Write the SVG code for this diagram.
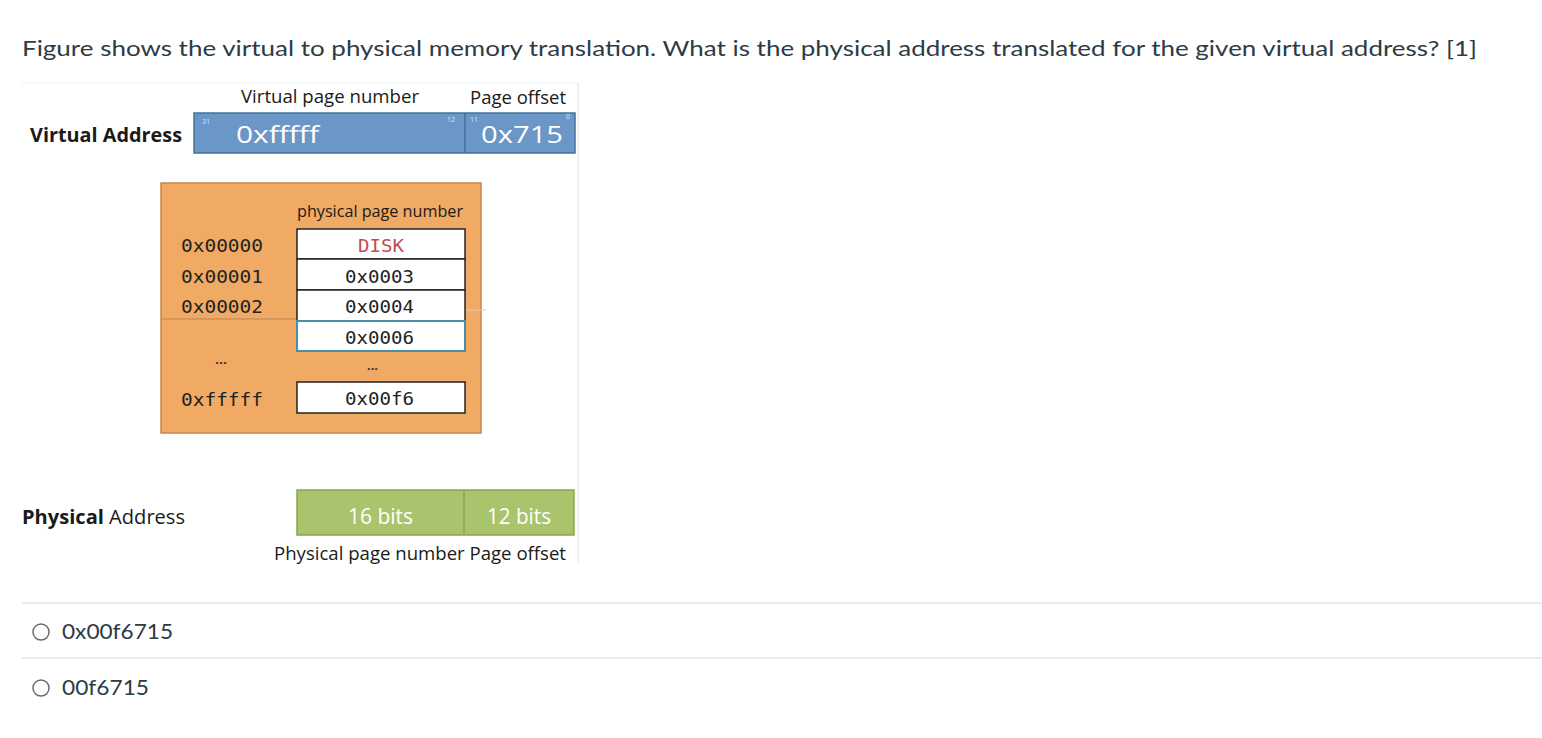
<svg xmlns="http://www.w3.org/2000/svg" width="1542" height="738" viewBox="0 0 1542 738">
<style>
.q{font-family:Lato,"Open Sans",sans-serif;fill:#2d3b45}
.c{font-family:"Open Sans","Noto Sans",sans-serif;fill:#1a1a1a}
.m{font-family:"DejaVu Sans Mono","Liberation Mono",monospace;fill:#222;font-size:18px}
.d{font-family:"Open Sans",sans-serif;fill:#333;font-size:13px;font-weight:bold}
.w{font-family:"Open Sans","Noto Sans",sans-serif;fill:#fff}
.t{font-family:"Open Sans",sans-serif;fill:#dde6f2;font-size:7px}
.cell{fill:#fff;stroke:#222;stroke-width:1.5}
.sep{stroke:#e2e4e6;stroke-width:1.5}
</style>
<rect width="1542" height="738" fill="#fff"/>
<text class="q" x="22" y="56" font-size="21" textLength="1455" lengthAdjust="spacingAndGlyphs">Figure shows the virtual to physical memory translation. What is the physical address translated for the given virtual address? [1]</text>
<g id="frame">
<line x1="20" y1="83" x2="578" y2="83" stroke="#eef2f6" stroke-width="1"/>
<line x1="578" y1="83" x2="578" y2="563" stroke="#e6ecf4" stroke-width="1.5"/>
</g>
<g id="virtual-address">
<text class="c" x="30" y="142" font-size="20" font-weight="bold" textLength="152" lengthAdjust="spacingAndGlyphs">Virtual Address</text>
<text class="c" x="241" y="103" font-size="19" textLength="178" lengthAdjust="spacingAndGlyphs">Virtual page number</text>
<text class="c" x="470" y="104" font-size="19" textLength="96" lengthAdjust="spacingAndGlyphs">Page offset</text>
<rect x="194" y="113" width="381" height="40" fill="#6b96c8" stroke="#41719c" stroke-width="1.5"/>
<line x1="465" y1="113" x2="465" y2="153" stroke="#41719c" stroke-width="1.5"/>
<text class="t" x="202" y="124">31</text>
<text class="t" x="447" y="122">12</text>
<text class="t" x="470" y="122">11</text>
<text class="t" x="566" y="119">0</text>
<text class="w" x="236" y="143" font-size="24" textLength="83" lengthAdjust="spacingAndGlyphs">0xfffff</text>
<text class="w" x="481" y="143" font-size="24" textLength="82" lengthAdjust="spacingAndGlyphs">0x715</text>
</g>
<g id="page-table">
<rect x="161" y="183" width="320" height="250" fill="#f0aa63" stroke="#c7864a" stroke-width="1.5"/>
<line x1="161" y1="319" x2="297" y2="319" stroke="#b98455" stroke-width="1"/>
<line x1="465" y1="310" x2="486" y2="310" stroke="#cfcfcf" stroke-width="1"/>
<text class="c" x="297" y="217" font-size="16" textLength="166" lengthAdjust="spacingAndGlyphs">physical page number</text>
<rect class="cell" x="297" y="229" width="168" height="30"/>
<rect class="cell" x="297" y="259" width="168" height="31"/>
<rect class="cell" x="297" y="290" width="168" height="31"/>
<rect x="297" y="321" width="168" height="30" fill="#fff" stroke="#4c8ea6" stroke-width="2"/>
<rect class="cell" x="297" y="382" width="168" height="31"/>
<text class="m" x="181" y="252" textLength="82" lengthAdjust="spacingAndGlyphs">0x00000</text>
<text class="m" x="181" y="283" textLength="82" lengthAdjust="spacingAndGlyphs">0x00001</text>
<text class="m" x="181" y="313" textLength="82" lengthAdjust="spacingAndGlyphs">0x00002</text>
<text class="d" x="215" y="364" textLength="12" lengthAdjust="spacingAndGlyphs">...</text>
<text class="m" x="181" y="406" textLength="82" lengthAdjust="spacingAndGlyphs">0xfffff</text>
<text class="m" x="358" y="252" textLength="46" lengthAdjust="spacingAndGlyphs" style="fill:#c0504d">DISK</text>
<text class="m" x="345" y="283" textLength="69" lengthAdjust="spacingAndGlyphs">0x0003</text>
<text class="m" x="345" y="313" textLength="69" lengthAdjust="spacingAndGlyphs">0x0004</text>
<text class="m" x="345" y="344" textLength="69" lengthAdjust="spacingAndGlyphs">0x0006</text>
<text class="d" x="367" y="370" textLength="11" lengthAdjust="spacingAndGlyphs">...</text>
<text class="m" x="345" y="405" textLength="69" lengthAdjust="spacingAndGlyphs">0x00f6</text>
</g>
<g id="physical-address">
<text class="c" x="22" y="524" font-size="20" textLength="163" lengthAdjust="spacingAndGlyphs"><tspan font-weight="bold">Physical</tspan> Address</text>
<rect x="297" y="490" width="277" height="45" fill="#a9c46c" stroke="#8aa64f" stroke-width="1.5"/>
<line x1="464" y1="490" x2="464" y2="535" stroke="#8aa64f" stroke-width="1.5"/>
<text class="w" x="348" y="524" font-size="21" textLength="65" lengthAdjust="spacingAndGlyphs">16 bits</text>
<text class="w" x="487" y="524" font-size="21" textLength="64" lengthAdjust="spacingAndGlyphs">12 bits</text>
<text class="c" x="274" y="560" font-size="19" textLength="292" lengthAdjust="spacingAndGlyphs">Physical page number Page offset</text>
</g>
<g id="options">
<line class="sep" x1="22" y1="603" x2="1542" y2="603"/>
<line class="sep" x1="22" y1="658" x2="1542" y2="658"/>
<circle cx="41" cy="632" r="8" fill="#fff" stroke="#6b6b6b" stroke-width="1.5"/>
<text class="q" x="62" y="639" font-size="21" textLength="111" lengthAdjust="spacingAndGlyphs">0x00f6715</text>
<circle cx="41" cy="688" r="8" fill="#fff" stroke="#6b6b6b" stroke-width="1.5"/>
<text class="q" x="62" y="695" font-size="21" textLength="87" lengthAdjust="spacingAndGlyphs">00f6715</text>
</g>
</svg>
